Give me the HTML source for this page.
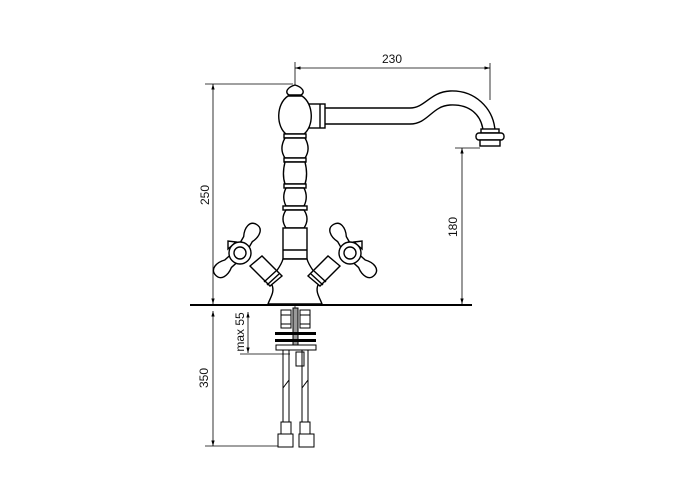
<!DOCTYPE html>
<html><head><style>
body{margin:0;background:#fff}
svg{display:block}
text{font-family:"Liberation Sans",sans-serif;font-size:12px;fill:#111}
</style></head><body>
<svg width="700" height="500" viewBox="0 0 700 500" xmlns="http://www.w3.org/2000/svg">
<defs>
<marker id="a" viewBox="0 0 10 10" refX="10" refY="5" markerWidth="7" markerHeight="7" orient="auto-start-reverse"><path d="M0,2 L10,5 L0,8 z" fill="#000"/></marker>
<g id="arm"><path d="M-5,0 L-5,-16 C-9,-24 -8,-33 0,-33 C8,-33 9,-24 5,-16 L5,0 z"/></g>
</defs>
<g stroke="#000" stroke-width="0.8" fill="none">
<line x1="295" y1="68" x2="490" y2="68" marker-start="url(#a)" marker-end="url(#a)"/>
<line x1="490" y1="63" x2="490" y2="100"/>
<line x1="295" y1="62" x2="295" y2="310"/>
<line x1="213" y1="84" x2="213" y2="304" marker-start="url(#a)" marker-end="url(#a)"/>
<line x1="205" y1="84" x2="293" y2="84"/>
<line x1="462" y1="148" x2="462" y2="304" marker-start="url(#a)" marker-end="url(#a)"/>
<line x1="455" y1="148" x2="480" y2="148"/>
<line x1="213" y1="311" x2="213" y2="446" marker-start="url(#a)" marker-end="url(#a)"/>
<line x1="205" y1="446" x2="282" y2="446"/>
<line x1="248" y1="312" x2="248" y2="353" marker-start="url(#a)" marker-end="url(#a)"/>
<line x1="240" y1="354" x2="290" y2="354"/>
</g>
<line x1="190" y1="305" x2="472" y2="305" stroke="#000" stroke-width="2"/>
<text x="392" y="63" text-anchor="middle">230</text>
<text transform="translate(209,195) rotate(-90)" text-anchor="middle">250</text>
<text transform="translate(457,227) rotate(-90)" text-anchor="middle">180</text>
<text transform="translate(208,378) rotate(-90)" text-anchor="middle">350</text>
<text transform="translate(244,332) rotate(-90)" text-anchor="middle">max 55</text>

<g stroke="#000" stroke-width="1.4" fill="#fff">
<path d="M324,108 L410,108 C425,108 430,92 450,91 C475,90 493,108 495,130 L483,130 C481,115 470,104 450,105 C432,106 428,124 410,124 L324,124 z"/>
<rect x="309" y="104" width="16" height="24"/>
<line x1="320" y1="104" x2="320" y2="128"/>
<rect x="481" y="129" width="18" height="4"/>
<rect x="476" y="133" width="28" height="7" rx="3"/>
<rect x="480" y="140" width="20" height="6"/>
<path d="M289,95 C284,92 288,87 295,85 C302,87 306,92 301,95 z"/>
<path d="M288,96 C276,104 276,126 286,134 L304,134 C314,126 314,104 302,96 z"/>
<rect x="284" y="134" width="22" height="4"/>
<path d="M285,138 C281,145 281,152 285,158 L305,158 C309,152 309,145 305,138 z"/>
<rect x="284" y="158" width="22" height="4"/>
<path d="M285,162 C283,170 283,178 285,184 L305,184 C307,178 307,170 305,162 z"/>
<rect x="284" y="184" width="22" height="4"/>
<path d="M286,188 C283,194 283,200 286,206 L304,206 C307,200 307,194 304,188 z"/>
<rect x="283" y="206" width="24" height="4"/>
<path d="M286,210 C282,216 282,222 286,228 L304,228 C308,222 308,216 304,210 z"/>
<rect x="283" y="228" width="24" height="31"/>
<line x1="283" y1="250" x2="307" y2="250"/>
<path d="M283,259 C280,270 270,275 272,285 C275,292 270,298 268,304 L322,304 C320,298 315,292 318,285 C320,275 310,270 307,259 z"/>
<path d="M250,266 L262,256 L282,276 L270,286 z"/>
<line x1="264" y1="282" x2="276" y2="271"/>
<line x1="267" y1="285" x2="279" y2="274"/>
<g transform="translate(240,253)">
<use href="#arm" transform="rotate(30)"/>
<use href="#arm" transform="rotate(-132)"/>
<path d="M-4,-11 L-12,-12 L-12,-4 z"/>
<circle r="11"/><circle r="6"/>
</g>
<path d="M340,266 L328,256 L308,276 L320,286 z"/>
<line x1="326" y1="282" x2="314" y2="271"/>
<line x1="323" y1="285" x2="311" y2="274"/>
<g transform="translate(350,253)">
<use href="#arm" transform="rotate(-30)"/>
<use href="#arm" transform="rotate(132)"/>
<path d="M4,-11 L12,-12 L12,-4 z"/>
<circle r="11"/><circle r="6"/>
</g>
</g>

<g stroke="#000" stroke-width="1" fill="#fff">
<rect x="281" y="310" width="10" height="18"/>
<line x1="281" y1="315" x2="291" y2="315"/><line x1="281" y1="324" x2="291" y2="324"/>
<rect x="300" y="310" width="10" height="18"/>
<line x1="300" y1="315" x2="310" y2="315"/><line x1="300" y1="324" x2="310" y2="324"/>
<rect x="293" y="308" width="5" height="42" fill="#999"/>
<rect x="276" y="345" width="40" height="5"/>
<rect x="296" y="352" width="8" height="14"/>
<line x1="283" y1="350" x2="283" y2="433"/><line x1="289" y1="350" x2="289" y2="433"/>
<line x1="302" y1="350" x2="302" y2="433"/><line x1="308" y1="350" x2="308" y2="433"/>
<line x1="283" y1="388" x2="289" y2="380"/><line x1="302" y1="388" x2="308" y2="380"/>
<rect x="281" y="422" width="10" height="12"/>
<rect x="300" y="422" width="10" height="12"/>
<rect x="278" y="434" width="15" height="13"/>
<rect x="299" y="434" width="15" height="13"/>
</g>
<rect x="275" y="332" width="41" height="3" fill="#000"/>
<rect x="275" y="339" width="41" height="3" fill="#000"/>
</svg>
</body></html>
